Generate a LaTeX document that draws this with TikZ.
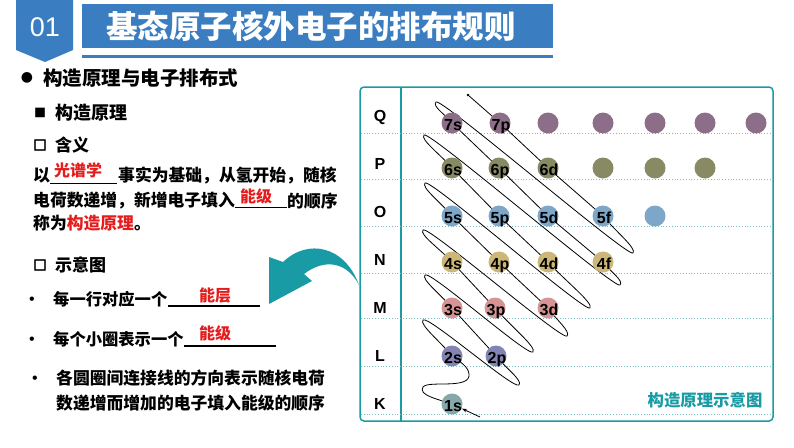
\documentclass[tikz,border=0pt]{standalone}
\usepackage{fontspec}
\setmainfont{Liberation Sans}
\newfontfamily\cjk{Noto Sans CJK SC}
\newfontfamily\symf{DejaVu Sans}
\newfontfamily\boxf[FakeBold=4]{DejaVu Sans}
\usetikzlibrary{calc,arrows.meta}
\definecolor{hdrblue}{RGB}{58,125,192}
\definecolor{tealc}{RGB}{25,155,165}
\definecolor{redc}{RGB}{228,28,28}
\definecolor{cQ}{RGB}{140,110,137}
\definecolor{cP}{RGB}{136,138,100}
\definecolor{cO}{RGB}{126,166,200}
\definecolor{cN}{RGB}{205,183,120}
\definecolor{cM}{RGB}{215,148,148}
\definecolor{cL}{RGB}{132,132,180}
\definecolor{cK}{RGB}{134,168,168}
\begin{document}
\begin{tikzpicture}[x=1pt,y=-1pt,
  txtb/.style={inner sep=0pt, anchor=west, font=\cjk\bfseries\fontsize{#1}{#1}\selectfont},
  redt/.style={inner sep=0pt, anchor=west, text=redc, font=\cjk\bfseries\fontsize{#1}{#1}\selectfont},
  symb/.style={inner sep=0pt, font=\symf\bfseries\fontsize{#1}{#1}\selectfont},
  boxsym/.style={inner sep=0pt, font=\cjk\bfseries\fontsize{#1}{#1}\selectfont},
  hollow/.style={inner sep=0pt, font=\boxf\bfseries\fontsize{#1}{#1}\selectfont},
  bdot/.style={inner sep=0pt, font=\fontsize{16}{16}\selectfont},
  uline/.style={line width=1.2pt},
  rowlab/.style={inner sep=0pt, font=\bfseries\fontsize{16}{16}\selectfont},
  orb/.style={circle, minimum size=21pt, inner sep=0pt, fill=#1},
  olab/.style={inner sep=0pt, anchor=base, font=\bfseries\fontsize{16}{16}\selectfont},
  wire/.style={line width=0.8pt, black},
  dotline/.style={tealc!60, dotted, line width=0.8pt}]
\useasboundingbox (0,0) rectangle (794,447);

% ---------- header ----------
\fill[hdrblue] (16,0) -- (73,0) -- (73,50) -- (45,62) -- (16,50) -- cycle;
\node[text=white, inner sep=0pt, font=\fontsize{27}{27}\selectfont] (num) at (45,27) {01};
\fill[hdrblue] (82,4) rectangle (553,48);
\node[inner sep=0pt, anchor=west, text=white, font=\cjk\bfseries\fontsize{31.5}{31.5}\selectfont] (title) at (106,26) {基态原子核外电子的排布规则};
\fill[hdrblue] (82,55) rectangle (553,58);

% ---------- left text ----------
\node[symb=14] (bul0) at (27,78) {●};
\node[txtb=19.5] (head) at (43,78) {构造原理与电子排布式};
\node[boxsym=12] (bul1) at (40,113) {■};
\node[txtb=18] (sub1) at (55,113) {构造原理};
\node[hollow=14] (bul2) at (40,145) {□};
\node[txtb=17] (sub2) at (55,145) {含义};

\node[txtb=17] (l1a) at (33,175) {以};
\draw[line width=0.8pt] (50,183) coordinate (u1a) -- (117,183) coordinate (u1b);
\node[redt=16] (l1r) at (54,170) {光谱学};
\node[txtb=16.8] (l1b) at (118,175) {事实为基础，从氢开始，随核};

\node[txtb=16.8] (l2a) at (33,201) {电荷数递增，新增电子填入};
\draw[line width=0.8pt] (235,207) coordinate (u2a) -- (287,207) coordinate (u2b);
\node[redt=16] (l2r) at (240,196) {能级};
\node[txtb=16.8] (l2b) at (287,201) {的顺序};

\node[txtb=16.8] (l3) at (33,223) {称为\textcolor{redc}{构造原理}。};

\node[hollow=14] (bul3) at (40,265) {□};
\node[txtb=17] (sub3) at (55,265) {示意图};

\node[bdot] (dot1) at (32,301) {•};
\node[txtb=16.3] (m1) at (53,299) {每一行对应一个};
\draw[uline] (168,306) coordinate (u3a) -- (260,306) coordinate (u3b);
\node[redt=16] (r1) at (199,295) {能层};

\node[bdot] (dot2) at (32,341) {•};
\node[txtb=16.3] (m2) at (53,339) {每个小圈表示一个};
\draw[uline] (184,346) coordinate (u4a) -- (276,346) coordinate (u4b);
\node[redt=16] (r2) at (199,333) {能级};

\node[bdot] (dot3) at (35,380) {•};
\node[txtb=16.8] (m3) at (56,378) {各圆圈间连接线的方向表示随核电荷};
\node[txtb=16.8] (m4) at (56,403) {数递增而增加的电子填入能级的顺序};

% ---------- curved arrow ----------
\fill[tealc] (359,285) .. controls (345,246) and (308,238) .. (283,262) -- (269,257) -- (269,304) -- (312,281) -- (304,274) .. controls (325,258) and (347,262) .. cycle;

% ---------- panel ----------
\draw[tealc, line width=1.5pt, rounded corners=4pt] (360,87) rectangle (773,421);
\draw[tealc, line width=1.2pt] (401,87) -- (401,421);
\foreach \yy in {133,179,226,273,318,366,414} \draw[dotline] (361,\yy) -- (772,\yy);

\node[rowlab] (rQ) at (380,117) {Q};
\node[rowlab] (rP) at (380,164) {P};
\node[rowlab] (rO) at (380,212) {O};
\node[rowlab] (rN) at (380,260) {N};
\node[rowlab] (rM) at (380,308) {M};
\node[rowlab] (rL) at (380,356) {L};
\node[rowlab] (rK) at (380,404) {K};

% orbital positions
\coordinate (o1s) at (452,404);
\coordinate (o2s) at (452,356); \coordinate (o2p) at (496,356);
\coordinate (o3s) at (452,308); \coordinate (o3p) at (495,308); \coordinate (o3d) at (548,308);
\coordinate (o4s) at (452,262); \coordinate (o4p) at (499,262); \coordinate (o4d) at (548,262); \coordinate (o4f) at (603,262);
\coordinate (o5s) at (452,216); \coordinate (o5p) at (499,216); \coordinate (o5d) at (548,216); \coordinate (o5f) at (603,216); \coordinate (o5g) at (655,216);
\coordinate (o6s) at (452,168); \coordinate (o6p) at (499,168); \coordinate (o6d) at (548,168); \coordinate (o6f) at (603,168); \coordinate (o6g) at (655,168); \coordinate (o6h) at (705,168);
\coordinate (o7s) at (452,123); \coordinate (o7p) at (500,123); \coordinate (o7d) at (548,123); \coordinate (o7f) at (603,123); \coordinate (o7g) at (655,123); \coordinate (o7h) at (705,123); \coordinate (o7i) at (756,123);

% turning points
\coordinate (s0) at (480,417);
\coordinate (k1) at (423,387);
\coordinate (k2) at (469,374);
\coordinate (t1) at (423,320); \coordinate (b1) at (519,385);
\coordinate (t2) at (425,275); \coordinate (b2) at (533,352);
\coordinate (t3) at (423,230); \coordinate (b3) at (567,336);
\coordinate (t4) at (425,183); \coordinate (b4) at (590,308);
\coordinate (t5) at (424,135); \coordinate (b5) at (620,285);
\coordinate (t6) at (436,102); \coordinate (b6) at (633,253);
\coordinate (e) at (468,95);

\draw[wire, -{Stealth[length=5pt,width=3.5pt]}] (s0) -- ($(o1s)!11pt!(s0)$);
\draw[wire]
 (o1s) .. controls (437,399) and (418,395) .. (k1)
 .. controls (428,380) and (471,390) .. (k2)
 .. controls (468,366) and (460,362) .. (o2s)
 .. controls ($(o2s)!0.4!(t1)$) and +(133:6) .. (t1)
 .. controls +(-47:7) and +(133:7) .. (b1)
 .. controls +(-47:6) and ($(b1)!0.6!(o2p)$) .. (o2p) -- (o3s)
 .. controls ($(o3s)!0.4!(t2)$) and +(133:6) .. (t2)
 .. controls +(-47:7) and +(133:7) .. (b2)
 .. controls +(-47:6) and ($(b2)!0.6!(o3p)$) .. (o3p) -- (o4s)
 .. controls ($(o4s)!0.4!(t3)$) and +(133:6) .. (t3)
 .. controls +(-47:7) and +(133:7) .. (b3)
 .. controls +(-47:6) and ($(b3)!0.6!(o3d)$) .. (o3d) -- (o4p) -- (o5s)
 .. controls ($(o5s)!0.4!(t4)$) and +(133:6) .. (t4)
 .. controls +(-47:7) and +(133:7) .. (b4)
 .. controls +(-47:6) and ($(b4)!0.6!(o4d)$) .. (o4d) -- (o5p) -- (o6s)
 .. controls ($(o6s)!0.4!(t5)$) and +(133:6) .. (t5)
 .. controls +(-47:7) and +(133:7) .. (b5)
 .. controls +(-47:6) and ($(b5)!0.6!(o4f)$) .. (o4f) -- (o5d) -- (o6p) -- (o7s)
 .. controls ($(o7s)!0.4!(t6)$) and +(133:6) .. (t6)
 .. controls +(-47:7) and +(133:7) .. (b6)
 .. controls +(-47:6) and ($(b6)!0.6!(o5f)$) .. (o5f) -- (o6d) -- (o7p) -- (e);
\fill (e) circle (1.3pt);

% circles
\foreach \nm/\cc in {1s/cK,2s/cL,2p/cL,3s/cM,3p/cM,3d/cM,4s/cN,4p/cN,4d/cN,4f/cN,5s/cO,5p/cO,5d/cO,5f/cO,6s/cP,6p/cP,6d/cP,7s/cQ,7p/cQ}{
  \node[orb=\cc] (n\nm) at (o\nm) {};
  \node[olab] (l\nm) at ($(o\nm)+(1,7)$) {\nm};
}
\foreach \nm/\cc in {5g/cO,6f/cP,6g/cP,6h/cP,7d/cQ,7f/cQ,7g/cQ,7h/cQ,7i/cQ}{
  \node[orb=\cc] (n\nm) at (o\nm) {};
}

\node[inner sep=0pt, text=tealc, font=\cjk\bfseries\fontsize{16.4}{16.4}\selectfont] (cap) at (705,400) {构造原理示意图};
\end{tikzpicture}
\end{document}
